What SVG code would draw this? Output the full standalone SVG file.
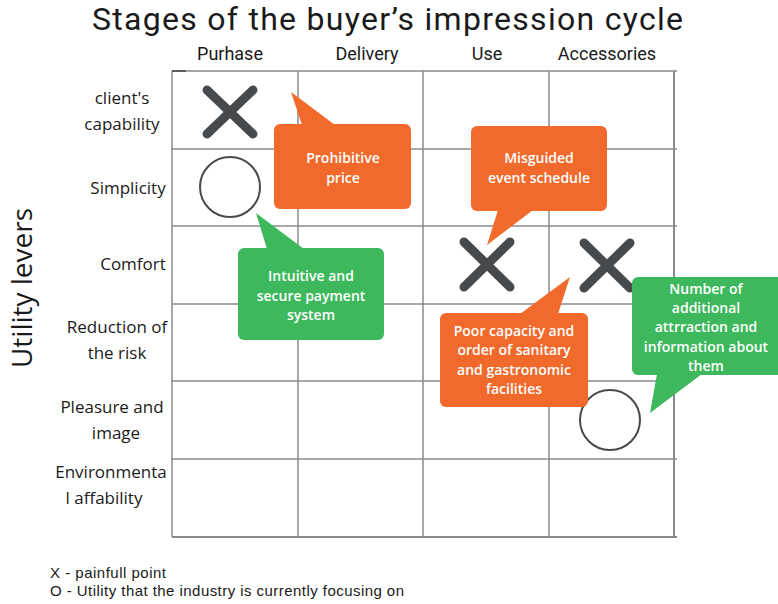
<svg xmlns="http://www.w3.org/2000/svg" width="778" height="604" viewBox="0 0 778 604">
  <style>
    .title { font-family: Roboto, "Liberation Sans", sans-serif; font-size: 32px; fill: #1a1a1a; }
    .col { font-family: Roboto, "Liberation Sans", sans-serif; font-size: 18px; fill: #1a1a1a; text-anchor: middle; }
    .row { font-family: "Open Sans", "Liberation Sans", sans-serif; font-size: 17px; fill: #1a1a1a; text-anchor: middle; }
    .axis { font-family: "Open Sans", "Liberation Sans", sans-serif; font-size: 28px; fill: #1a1a1a; text-anchor: middle; }
    .legend { font-family: "Liberation Sans", Arial, sans-serif; font-size: 15px; fill: #1a1a1a; }
    .grid { stroke: #8a8a8a; stroke-width: 1.5; fill: none; }
    .cross { stroke: #474a4d; stroke-width: 9; stroke-linecap: round; fill: none; }
    .ring { stroke: #474a4d; stroke-width: 2; fill: none; }
    .orange { fill: #f26a2b; }
    .green { fill: #3db85c; }
    .note { font-family: "Open Sans", "Liberation Sans", sans-serif; font-size: 14px; font-weight: 600; fill: #ffffff; text-anchor: middle; }
  </style>

  <rect width="778" height="604" fill="#ffffff"/>

  <!-- Titles -->
  <text class="title" x="92" y="30" textLength="591" lengthAdjust="spacing">Stages of the buyer’s impression cycle</text>
  <text class="col" x="230" y="60">Purhase</text>
  <text class="col" x="367" y="60">Delivery</text>
  <text class="col" x="487" y="60">Use</text>
  <text class="col" x="607" y="60">Accessories</text>
  <text class="axis" transform="translate(32,288) rotate(-90)">Utility levers</text>

  <!-- Row labels -->
  <g id="row-labels">
    <text class="row" x="122" y="104">client's</text>
    <text class="row" x="122" y="130">capability</text>
    <text class="row" x="128" y="194">Simplicity</text>
    <text class="row" x="133" y="270">Comfort</text>
    <text class="row" x="117" y="333">Reduction of</text>
    <text class="row" x="117" y="359">the risk</text>
    <text class="row" x="112" y="413">Pleasure and</text>
    <text class="row" x="116" y="439">image</text>
    <text class="row" x="111" y="478">Environmenta</text>
    <text class="row" x="104" y="504">l affability</text>
  </g>

  <!-- Grid -->
  <g id="grid" class="grid">
    <line x1="172" y1="71" x2="677" y2="71"/>
    <line x1="172" y1="149" x2="677" y2="149"/>
    <line x1="172" y1="226" x2="677" y2="226"/>
    <line x1="172" y1="304" x2="677" y2="304"/>
    <line x1="172" y1="381" x2="677" y2="381"/>
    <line x1="172" y1="459" x2="677" y2="459"/>
    <line x1="172" y1="537" x2="677" y2="537" stroke-width="2"/>
    <line x1="172" y1="71" x2="172" y2="537"/>
    <line x1="298" y1="71" x2="298" y2="537"/>
    <line x1="423" y1="71" x2="423" y2="537"/>
    <line x1="549" y1="71" x2="549" y2="537"/>
    <line x1="674" y1="71" x2="674" y2="537" stroke-width="2"/>
    <line x1="172" y1="71" x2="186" y2="71" stroke="#444"/>
  </g>

  <!-- Marks -->
  <g id="pain-purchase-capability"><path class="cross" d="M207 90 L253 134 M253 90 L207 134"/></g>
  <g id="focus-purchase-simplicity"><circle class="ring" cx="230" cy="187" r="30"/></g>
  <g id="pain-use-comfort"><path class="cross" d="M464 242 L510 287 M510 242 L464 287"/></g>
  <g id="pain-accessories-comfort"><path class="cross" d="M584 243 L630 288 M630 243 L584 288"/></g>
  <g id="focus-accessories-pleasure"><circle class="ring" cx="610" cy="420" r="30"/></g>

  <!-- Callouts -->
  <g id="note-price">
    <path class="orange" d="M291 92 L335 125 L302 125 Z"/>
    <rect class="orange" x="274" y="124" width="137" height="85" rx="6"/>
    <text class="note" x="343" y="163">Prohibitive</text>
    <text class="note" x="343" y="183">price</text>
  </g>

  <g id="note-schedule">
    <path class="orange" d="M487 245 L498 210 L533 210 Z"/>
    <rect class="orange" x="471" y="126" width="136" height="85" rx="6"/>
    <text class="note" x="539" y="163">Misguided</text>
    <text class="note" x="539" y="183">event schedule</text>
  </g>

  <g id="note-payment">
    <path class="green" d="M256 213 L304 249 L267 249 Z"/>
    <rect class="green" x="238" y="248" width="146" height="92" rx="6"/>
    <text class="note" x="311" y="281">Intuitive and</text>
    <text class="note" x="311" y="301">secure payment</text>
    <text class="note" x="311" y="320">system</text>
  </g>

  <g id="note-facilities">
    <path class="orange" d="M570 277 L558 314 L520 314 Z"/>
    <rect class="orange" x="440" y="313" width="148" height="94" rx="6"/>
    <text class="note" x="514" y="336">Poor capacity and</text>
    <text class="note" x="514" y="355">order of sanitary</text>
    <text class="note" x="514" y="375">and gastronomic</text>
    <text class="note" x="514" y="394">facilities</text>
  </g>

  <g id="note-attractions">
    <path class="green" d="M650 413 L657 374 L702 374 Z"/>
    <rect class="green" x="632" y="277" width="152" height="98" rx="6"/>
    <text class="note" x="706" y="294">Number of</text>
    <text class="note" x="706" y="313">additional</text>
    <text class="note" x="706" y="332">attrraction and</text>
    <text class="note" x="706" y="352">information about</text>
    <text class="note" x="706" y="371">them</text>
  </g>

  <!-- Legend -->
  <text class="legend" x="50" y="578" textLength="116" lengthAdjust="spacing">X - painfull point</text>
  <text class="legend" x="50" y="596" textLength="354" lengthAdjust="spacing">O - Utility that the industry is currently focusing on</text>
</svg>
